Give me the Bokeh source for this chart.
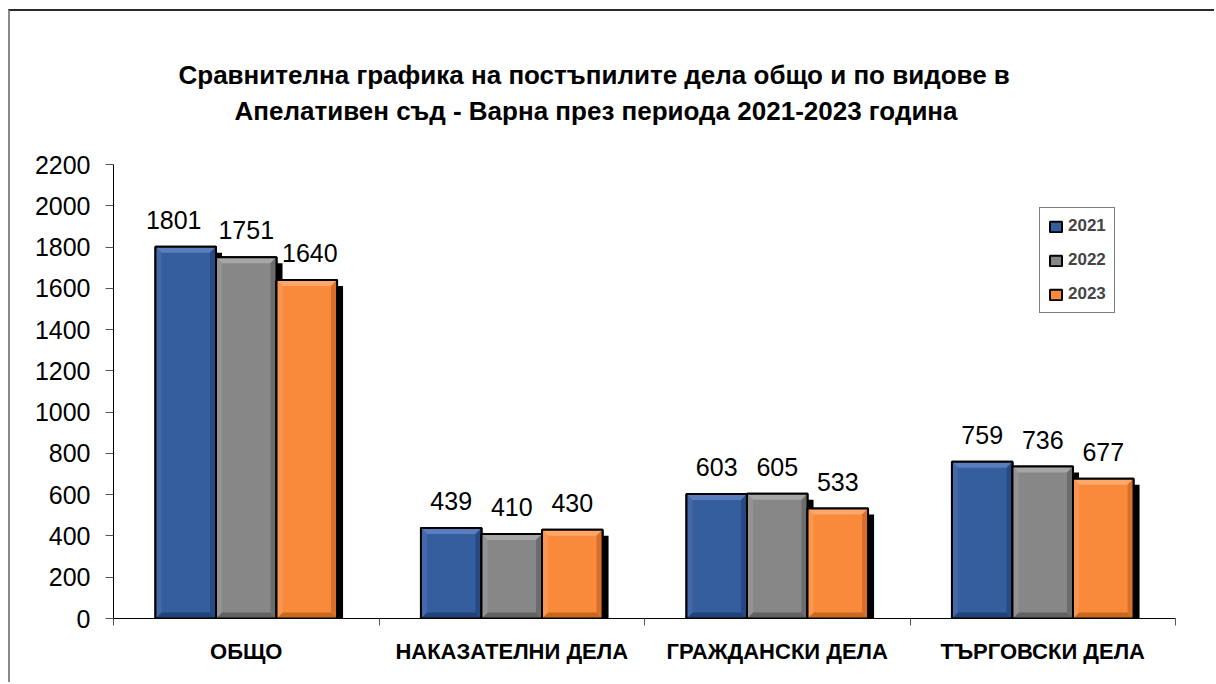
import numpy as np
from bokeh.plotting import figure
from bokeh.models import Range1d, FixedTicker, Legend, LegendItem, Title
from bokeh.embed import file_html
from bokeh.resources import INLINE
from bokeh.core.properties import value

# ---------------- data ----------------
categories = ["ОБЩО", "НАКАЗАТЕЛНИ ДЕЛА", "ГРАЖДАНСКИ ДЕЛА", "ТЪРГОВСКИ ДЕЛА"]
years = ["2021", "2022", "2023"]
v2021 = [1801, 439, 603, 759]
v2022 = [1751, 410, 605, 736]
v2023 = [1640, 430, 533, 677]
y_ticks = [0, 200, 400, 600, 800, 1000, 1200, 1400, 1600, 1800, 2000, 2200]
title_lines = ["Сравнителна графика на постъпилите дела общо и по видове в",
               "Апелативен съд - Варна през периода 2021-2023 година"]

# ---------------- styles ----------------
FONT = "Liberation Sans"
series_vals = [v2021, v2022, v2023]
main_col = ["#355E9F", "#878787", "#F98A3C"]
top_col = ["#5A7EBD", "#A6A6A6", "#FCA86A"]
left_col = ["#4468A8", "#939393", "#FA964F"]
right_col = ["#274A85", "#6C6C6C", "#D8702A"]
bot_col = ["#22427A", "#626262", "#C9681F"]
offsets = [-0.228, 0.0, 0.228]
bar_w = 0.228
# pixel nudges of value labels (series x category), as in the original layout
label_nudge = [[-12, 0, 0, 0], [0, 0, 0, 0], [3, 0, 0, 0]]
title_offsets = [65, 121]  # px from the frame's left edge

W, H = 1206, 673
ML, MR, MT, MB = 103, 41, 153, 66
frame_w = W - ML - MR
frame_h = H - MT - MB
YMAX = 2200
px_x = 4.0 / frame_w
px_y = YMAX / frame_h

p = figure(width=W, height=H, output_backend="svg", toolbar_location=None,
           x_range=Range1d(0, 4), y_range=Range1d(0, YMAX),
           min_border_left=ML, min_border_right=MR, min_border_top=MT, min_border_bottom=MB,
           margin=(9, 0, 0, 8))
p.styles = {"border-top": "2px solid #2a2a2a", "border-left": "2px solid #8a8a8a"}
p.outline_line_color = None
p.xgrid.visible = False
p.ygrid.visible = False
p.background_fill_color = "white"
p.border_fill_color = "white"

centers = np.arange(len(categories)) + 0.5
bevel = 6
bx, by = bevel * px_x, bevel * px_y
sh = 6

legend_items = []
for k in range(3):
    vals = np.array(series_vals[k], dtype=float)
    xc = centers + offsets[k]
    x0 = xc - bar_w / 2
    x1 = xc + bar_w / 2
    # shadow
    p.quad(left=x0 + sh * px_x, right=x1 + sh * px_x, top=vals - sh * px_y, bottom=0,
           fill_color="black", line_color=None)
for k in range(3):
    vals = np.array(series_vals[k], dtype=float)
    xc = centers + offsets[k]
    x0 = xc - bar_w / 2
    x1 = xc + bar_w / 2
    r = p.quad(left=x0, right=x1, top=vals, bottom=0, fill_color=main_col[k],
               line_color="black", line_width=2)
    tops = [[a, b, b - bx, a + bx] for a, b in zip(x0, x1)]
    tops_y = [[t, t, t - by, t - by] for t in vals]
    p.patches(tops, tops_y, fill_color=top_col[k], line_color=None)
    bots_y = [[0, 0, by, by] for t in vals]
    p.patches(tops, bots_y, fill_color=bot_col[k], line_color=None)
    lefts = [[a, a + bx, a + bx, a] for a in x0]
    sides_y = [[t, t - by, by, 0] for t in vals]
    p.patches(lefts, sides_y, fill_color=left_col[k], line_color=None)
    rights = [[b, b - bx, b - bx, b] for b in x1]
    p.patches(rights, sides_y, fill_color=right_col[k], line_color=None)
    p.quad(left=x0, right=x1, top=vals, bottom=0, fill_color=None,
           line_color="black", line_width=2)
    p.text(x=xc, y=vals, text=[str(int(v)) for v in vals],
           text_font=value(FONT), text_font_size="25px", text_align="center",
           text_baseline="alphabetic", x_offset=label_nudge[k], y_offset=-27,
           text_color="black")
    legend_items.append(LegendItem(label=years[k], renderers=[r]))

legend = Legend(items=legend_items, location=(926, 305))
legend.border_line_color = "black"
legend.border_line_width = 1
legend.label_text_font = FONT
legend.label_text_font_style = "bold"
legend.label_text_font_size = "17px"
legend.glyph_width = 15
legend.glyph_height = 13
legend.label_standoff = 5
legend.label_height = 20
legend.spacing = 14
legend.padding = 8
legend.margin = 0
p.add_layout(legend)

# axes
xa = p.xaxis[0]
xa.ticker = FixedTicker(ticks=list(centers), minor_ticks=list(range(len(categories) + 1)))
xa.major_label_overrides = {float(c): cat for c, cat in zip(centers, categories)}
xa.major_tick_out = 0
xa.major_tick_in = 0
xa.minor_tick_out = 7
xa.minor_tick_in = 0
xa.minor_tick_line_color = "#555555"
xa.axis_line_color = "black"
xa.major_label_text_font = FONT
xa.major_label_text_font_style = "bold"
xa.major_label_text_font_size = "22px"
xa.major_label_text_color = "black"
xa.major_label_standoff = 13

ya = p.yaxis[0]
ya.ticker = FixedTicker(ticks=y_ticks, minor_ticks=[])
ya.major_tick_out = 8
ya.major_tick_in = 0
ya.major_tick_line_color = "#555555"
ya.axis_line_color = "black"
ya.major_label_text_font = FONT
ya.major_label_text_font_size = "25px"
ya.major_label_text_color = "black"
ya.major_label_standoff = 15

# title: blank spacer next to the frame, then line 2, then line 1 on top
p.add_layout(Title(text=" ", text_font=FONT, text_font_size="26px", standoff=5), "above")
p.add_layout(Title(text=title_lines[1], align="left", offset=title_offsets[1],
                   text_font=FONT, text_font_size="26px", text_font_style="bold",
                   text_color="black", standoff=4), "above")
p.add_layout(Title(text=title_lines[0], align="left", offset=title_offsets[0],
                   text_font=FONT, text_font_size="26px", text_font_style="bold",
                   text_color="black", standoff=3), "above")

open("out.html", "w").write(file_html(p, INLINE))
